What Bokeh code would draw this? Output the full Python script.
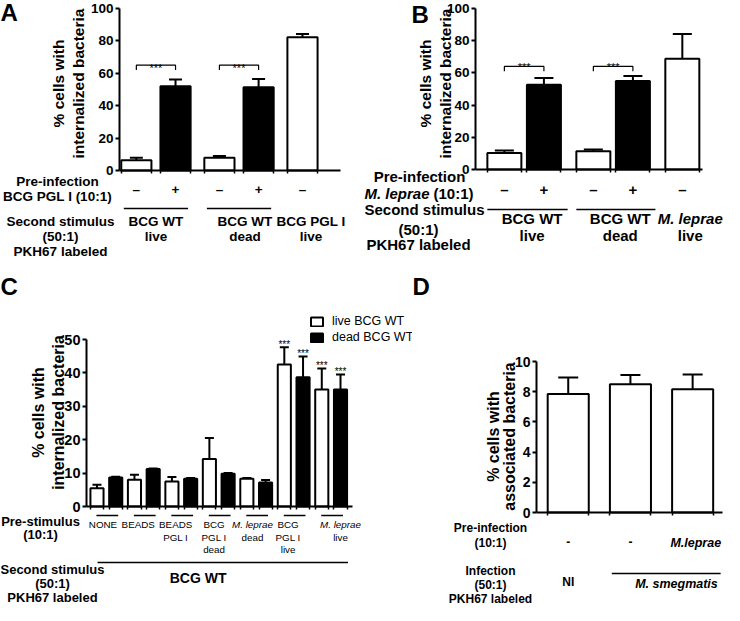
import glob
from math import pi
from bokeh.plotting import figure
from bokeh.models import (Range1d, Label, Legend, LegendItem, FixedTicker, Whisker,
                          TeeHead, ColumnDataSource, Arrow)
from bokeh.layouts import row, column
from bokeh.embed import file_html
from bokeh.resources import INLINE

FONT = "Liberation Sans"
_narrow = []
for d in ("/usr/share/fonts", "/usr/local/share/fonts"):
    _narrow += glob.glob(d + "/**/LiberationSansNarrow*", recursive=True)
if _narrow:
    NARROW, NARROW_SIZE = "Liberation Sans Narrow", 11
else:
    NARROW, NARROW_SIZE = "Liberation Sans", 9.8

# ---------------- data ----------------
# Panel A
a_pre = ["–", "+", "–", "+", "–"]
a_mean = [6.3, 52.0, 7.9, 51.4, 82.2]
a_sem = [1.6, 4.1, 1.0, 5.1, 2.0]
a_filled = [False, True, False, True, False]
a_groups = [["BCG WT", "live"], ["BCG WT", "dead"], ["BCG PGL I", "live"]]
a_yticks = [0, 20, 40, 60, 80, 100]

# Panel B
b_pre = ["–", "+", "–", "+", "–"]
b_mean = [10.3, 52.7, 11.4, 54.9, 68.8]
b_sem = [1.5, 4.1, 1.0, 3.1, 15.4]
b_filled = [False, True, False, True, False]
b_groups = [["BCG WT", "live"], ["BCG WT", "dead"], ["M. leprae", "live"]]
b_yticks = [0, 20, 40, 60, 80, 100]

# Panel C
c_prestim = [["NONE"], ["BEADS"], ["BEADS", "PGL I"], ["BCG", "PGL I", "dead"],
             ["M. leprae", "dead"], ["BCG", "PGL I", "live"], ["M. leprae", "live"]]
c_live = [5.5, 8.0, 7.5, 14.2, 8.3, 42.5, 35.0]
c_live_sem = [1.0, 1.5, 1.3, 6.3, 0.2, 5.2, 6.3]
c_dead = [8.7, 11.2, 8.3, 9.8, 7.2, 38.7, 35.0]
c_dead_sem = [0.2, 0.2, 0.2, 0.2, 0.7, 6.2, 4.5]
c_sig = [False, False, False, False, False, True, True]
c_series = ["live BCG WT", "dead BCG WT"]
c_yticks = [0, 10, 20, 30, 40, 50]

# Panel D
d_pre = ["-", "-", "M.leprae"]
d_mean = [7.84, 8.5, 8.17]
d_sem = [1.1, 0.6, 0.97]
d_yticks = [0, 2, 4, 6, 8, 10]


# ---------------- helpers ----------------
class Panel:
    """Figure whose frame fills the whole canvas; the plot region (L,T,R,B in px)
    carries the data ranges xr, yr, and axes are pinned to its left/bottom edges."""

    def __init__(self, W, H, L, T, R, B, xr, yr):
        self.ux = (xr[1] - xr[0]) / (R - L)
        self.uy = (yr[1] - yr[0]) / (B - T)
        self.fx0 = xr[0] - L * self.ux
        fx1 = xr[1] + (W - R) * self.ux
        fy0 = yr[0] - (H - B) * self.uy
        self.fy1 = yr[1] + T * self.uy
        p = figure(width=W, height=H, x_range=Range1d(self.fx0, fx1),
                   y_range=Range1d(fy0, self.fy1), min_border=0,
                   output_backend="svg", toolbar_location=None)
        p.grid.visible = False
        p.outline_line_color = None
        p.background_fill_color = "white"
        p.border_fill_color = "white"
        p.yaxis.fixed_location = xr[0]
        p.yaxis.bounds = yr
        p.xaxis.fixed_location = yr[0]
        p.xaxis.bounds = xr
        self.p = p

    def X(self, px):
        return self.fx0 + px * self.ux

    def Y(self, py):
        return self.fy1 - py * self.uy

    def dy(self, px):
        return px * self.uy

    def text(self, x, py, s, size, style="bold", align="center", font=FONT,
             angle=0.0, px=False, baseline="middle"):
        xx = self.X(x) if px else x
        self.p.add_layout(Label(x=xx, y=self.Y(py), text=s, text_font=font,
                                text_font_size=f"{size}px", text_font_style=style,
                                text_align=align, text_baseline=baseline, angle=angle,
                                text_color="black"))

    def hline(self, x0, x1, py, width=1.5):
        y = self.Y(py)
        self.p.add_layout(Arrow(start=None, end=None, x_start=x0, y_start=y, x_end=x1,
                                y_end=y, line_width=width, line_color="black"))


def style_axes(p, yticks, size, xticks):
    ya = p.yaxis[0]
    ya.ticker = FixedTicker(ticks=yticks)
    ya.minor_tick_line_color = None
    ya.major_tick_in = 0
    ya.major_tick_out = 4
    ya.axis_line_width = 2
    ya.major_tick_line_width = 2
    ya.major_label_text_font = FONT
    ya.major_label_text_font_style = "bold"
    ya.major_label_text_font_size = size
    ya.major_label_text_color = "black"
    ya.major_label_standoff = 2
    xa = p.xaxis[0]
    xa.ticker = FixedTicker(ticks=xticks)
    xa.minor_tick_line_color = None
    xa.major_tick_in = 0
    xa.major_tick_out = 3
    xa.axis_line_width = 2
    xa.major_tick_line_width = 1.5
    xa.major_label_text_font_size = "0px"
    xa.major_label_standoff = 0


def bars(pan, xs, tops, errs, fills, width, cap):
    src = ColumnDataSource(dict(x=xs, top=tops, up=[t + e for t, e in zip(tops, errs)],
                                fill=fills))
    r = pan.p.vbar(x="x", top="top", bottom=0, width=width, source=src, fill_color="fill",
                   line_color="black", line_width=2)
    pan.p.add_layout(Whisker(source=src, base="x", lower="top", upper="up",
                             dimension="height", line_color="black", line_width=2,
                             upper_head=TeeHead(size=cap, line_color="black", line_width=2),
                             lower_head=None))
    return r


def edges(xs, w):
    out = []
    for x in xs:
        out += [x - w / 2, x + w / 2]
    return out


# ---------------- Panel A ----------------
A = Panel(362, 272, 119, 8, 340, 170, (-0.43, 5.21), (0, 100))
ax = [i + 0.12 * (i // 2) for i in range(len(a_mean))]
aw = 0.77
bars(A, ax, a_mean, a_sem, ["black" if f else "white" for f in a_filled], aw, 13)
style_axes(A.p, a_yticks, "13.5px", edges(ax, aw))
for i in (0, 2):
    x0, x1 = ax[i], ax[i + 1]
    A.p.multi_line(xs=[[x0, x0, x1, x1]], ys=[[62, 65, 65, 62]], line_color="black", line_width=1.2)
    A.text((x0 + x1) / 2, 67.5, "***", 11, style="normal", baseline="alphabetic")
A.text(0, 12, "A", 24, align="left", px=True)
A.text(58, 83, "% cells with", 15.5, angle=pi / 2, px=True)
A.text(78, 83, "internalized bacteria", 15.5, angle=pi / 2, px=True)
A.text(57, 181, "Pre-infection", 13.5, px=True)
A.text(57, 196, "BCG PGL I (10:1)", 13.5, px=True)
for x, s in zip(ax, a_pre):
    A.text(x, 189, s, 13.5)
A.hline(ax[0] - 0.32, ax[1] + 0.32, 208)
A.hline(ax[2] - 0.32, ax[3] + 0.32, 208)
A.text(60, 221, "Second stimulus", 13.5, px=True)
A.text(60, 236, "(50:1)", 13.5, px=True)
A.text(60, 251, "PKH67 labeled", 13.5, px=True)
a_gx = [(ax[0] + ax[1]) / 2, (ax[2] + ax[3]) / 2 + 0.15, ax[4] + 0.22]
for gx, (l1, l2) in zip(a_gx, a_groups):
    A.text(gx, 221, l1, 13.5)
    A.text(gx, 236, l2, 13.5)

# ---------------- Panel B ----------------
B = Panel(362, 272, 113, 8, 340, 169, (-0.73, 5.01), (0, 100))
bx = [i + 0.25 * (i // 2) for i in range(len(b_mean))]
bw = 0.86
bars(B, bx, b_mean, b_sem, ["black" if f else "white" for f in b_filled], bw, 19)
style_axes(B.p, b_yticks, "13.5px", edges(bx, bw))
for i in (0, 2):
    x0, x1 = bx[i], bx[i + 1]
    B.p.multi_line(xs=[[x0, x0, x1, x1]], ys=[[61, 64, 64, 61]], line_color="black", line_width=1.2)
    B.text((x0 + x1) / 2, 66.5, "***", 11, style="normal", baseline="alphabetic")
B.text(49, 14, "B", 24, align="left", px=True)
B.text(63, 83, "% cells with", 15.5, angle=pi / 2, px=True)
B.text(83, 83, "internalized bacteria", 15.5, angle=pi / 2, px=True)
B.text(57, 176, "Pre-infection", 15, px=True)
B.text(67, 193, "M. leprae", 15, style="bold italic", align="right", px=True)
B.text(71, 193, "(10:1)", 15, align="left", px=True)
for x, s in zip(bx, b_pre):
    B.text(x, 189, s, 15)
B.hline(bx[0] - 0.43, bx[1] + 0.6, 209)
B.hline(bx[2] - 0.43, bx[3] + 0.57, 209)
B.text(62, 209, "Second stimulus", 15, px=True)
B.text(56, 229, "(50:1)", 15, px=True)
B.text(56, 244, "PKH67 labeled", 15, px=True)
b_gx = [(bx[0] + bx[1]) / 2 + 0.2, (bx[2] + bx[3]) / 2 + 0.18, bx[4] + 0.2]
for gx, (l1, l2) in zip(b_gx, b_groups):
    B.text(gx, 218, l1, 15, style="bold italic" if l1.startswith("M.") else "bold")
    B.text(gx, 235, l2, 15)

# ---------------- Panel C ----------------
C = Panel(412, 333, 86, 67, 352, 234, (-0.56, 13.64), (0, 50))
cxl = [2 * i for i in range(len(c_live))]
cxd = [2 * i + 1 for i in range(len(c_dead))]
cw = 0.7
r_live = bars(C, cxl, c_live, c_live_sem, ["white"] * len(c_live), cw, 9)
r_dead = bars(C, cxd, c_dead, c_dead_sem, ["black"] * len(c_dead), cw, 9)
style_axes(C.p, c_yticks, "14.5px", edges(cxl + cxd, cw))
for i, s in enumerate(c_sig):
    if s:
        for x, m, e in ((cxl[i], c_live[i], c_live_sem[i]), (cxd[i], c_dead[i], c_dead_sem[i])):
            C.p.add_layout(Label(x=x, y=m + e + C.dy(3), text="***", text_font=FONT,
                                 text_font_size="10px", text_align="center",
                                 text_baseline="alphabetic", text_color="black"))
legend = Legend(items=[LegendItem(label=c_series[0], renderers=[r_live]),
                       LegendItem(label=c_series[1], renderers=[r_dead])],
                location=(309, 261), orientation="vertical", padding=0, margin=0,
                spacing=2, glyph_width=15, glyph_height=11, label_standoff=8,
                label_height=13, label_text_font=FONT, label_text_font_size="12.5px",
                label_text_color="black", border_line_color=None,
                background_fill_alpha=0)
C.p.add_layout(legend)
C.text(0, 14, "C", 24, align="left", px=True)
C.text(38, 140, "% cells with", 16, angle=pi / 2, px=True)
C.text(58, 140, "internalized bacteria", 16, angle=pi / 2, px=True)
c_off = [-0.18, -0.3, -0.3, -0.25, -0.2, -0.3, 0.5]
for i, lines in enumerate(c_prestim):
    cx = 2 * i + 0.55
    C.hline(cx - 0.58, cx + 0.58, 243)
    for j, s in enumerate(lines):
        C.text(2 * i + 0.5 + c_off[i], 252 + 12.5 * j, s, NARROW_SIZE,
               style="italic" if s.startswith("M.") else "normal", font=NARROW)
C.hline(0.03, 13.4, 290)
C.text(5.4, 305, "BCG WT", 14)
C.text(40, 249, "Pre-stimulus", 13, px=True)
C.text(40, 262, "(10:1)", 13, px=True)
C.text(52, 297, "Second stimulus", 13, px=True)
C.text(52, 311, "(50:1)", 13, px=True)
C.text(52, 325, "PKH67 labeled", 13, px=True)

# ---------------- Panel D ----------------
D = Panel(312, 333, 124, 89, 310, 240, (-0.51, 2.48), (0, 10))
dx = [float(i) for i in range(len(d_mean))]
dw = 0.66
bars(D, dx, d_mean, d_sem, ["white"] * len(d_mean), dw, 20)
style_axes(D.p, d_yticks, "14px", edges(dx, dw))
D.text(0, 14, "D", 24, align="left", px=True)
D.text(81, 164, "% cells with", 16, angle=pi / 2, px=True)
D.text(97, 164, "associated bacteria", 16, angle=pi / 2, px=True)
D.text(78, 255, "Pre-infection", 12, px=True)
D.text(78, 270, "(10:1)", 12, px=True)
for x, s in zip(dx, d_pre):
    if s.startswith("M"):
        D.text(x + 0.05, 270, s, 12.5, style="bold italic")
    else:
        D.text(x, 269, s, 12)
D.text(78, 298, "Infection", 12, px=True)
D.text(78, 312, "(50:1)", 12, px=True)
D.text(78, 326, "PKH67 labeled", 12, px=True)
D.text(dx[0], 309, "NI", 12)
D.hline(0.7, 2.45, 301)
D.text(1.74, 311, "M. smegmatis", 12.5, style="bold italic")

layout = column(row(A.p, B.p), row(C.p, D.p))
open("out.html", "w").write(file_html(layout, INLINE))
